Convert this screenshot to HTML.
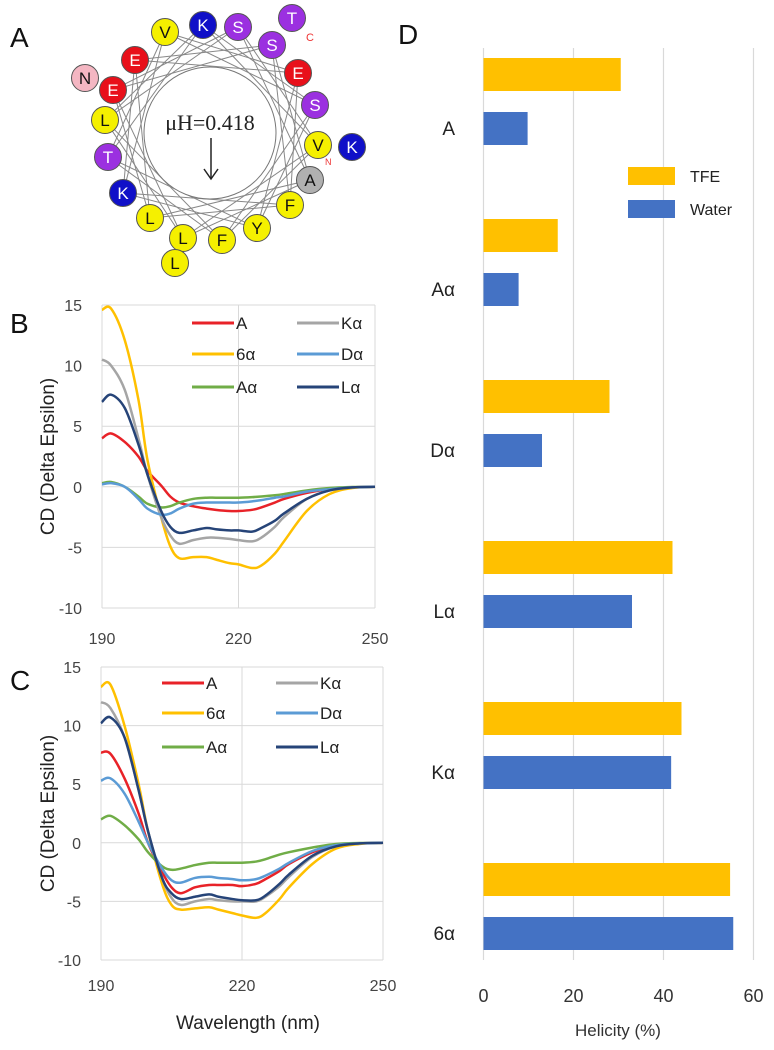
<!DOCTYPE html>
<html><head><meta charset="utf-8"><style>
html,body{margin:0;padding:0;background:#fff;width:774px;height:1050px;overflow:hidden}
svg{display:block;font-family:"Liberation Sans",sans-serif}
</style></head><body>
<svg id="fig" width="774" height="1050" viewBox="0 0 774 1050">
<text x="10" y="47" font-size="28" fill="#111">A</text>
<text x="10" y="333" font-size="28" fill="#111">B</text>
<text x="10" y="690" font-size="28" fill="#111">C</text>
<text x="398" y="44" font-size="28" fill="#111">D</text>
<g id="wheel"></g>
<g id="pb"></g>
<g id="pc"></g>
<g id="pd"></g>
</svg>
<script>
const NS="http://www.w3.org/2000/svg";
function mk(p,t,a,txt){const e=document.createElementNS(NS,t);for(const k in a)e.setAttribute(k,a[k]);if(txt!==undefined)e.textContent=txt;p.appendChild(e);return e;}

// ---- Helical wheel ----
const residues=["N","E","E","V","K","S","T","S","E","S","V","K","A","F","Y","F","L","L","L","K","T","L"];
const resColors=["#f4b6c2","#e8101a","#e8101a","#f5f000","#1010c8","#9b30e0","#9b30e0","#9b30e0","#e8101a","#9b30e0","#f5f000","#1010c8","#b0b0b0","#f5f000","#f5f000","#f5f000","#f5f000","#f5f000","#f5f000","#1010c8","#9b30e0","#f5f000"];
const resPos=[[85,78],[113,90],[135,60],[165,32],[203,25],[238,27],[292,18],[272,45],[298,73],[315,105],[318,145],[352,147],[310,180],[290,205],[257,228],[222,240],[183,238],[175,263],[150,218],[123,193],[108,157],[105,120]];
const W=document.getElementById('wheel');
const inner=[1,2,3,4,5,7,8,9,10,12,13,14,15,16,18,19,20,21];
for(let i=0;i<inner.length;i++){for(const st of [5,4]){const a=resPos[inner[i]],b=resPos[inner[(i+st)%inner.length]];
 const l=mk(W,'line',{x1:a[0],y1:a[1],x2:b[0],y2:b[1],stroke:'#888','stroke-width':1});
 
 }}
mk(W,'circle',{cx:210,cy:133,r:66,fill:'#fff',stroke:'#777','stroke-width':1});
residues.forEach((r,i)=>{const g=mk(W,'g',{});
 
 
 mk(g,'circle',{cx:resPos[i][0],cy:resPos[i][1],r:13.5,fill:resColors[i],stroke:'#555','stroke-width':1});
 const dark=["#f4b6c2","#f5f000","#b0b0b0"].includes(resColors[i]);
 mk(g,'text',{x:resPos[i][0],y:resPos[i][1]+6,'text-anchor':'middle','font-size':17,fill:dark?'#111':'#fff'},r);});
mk(W,'text',{x:306,y:41,'font-size':11,fill:'#e33'},'C');
mk(W,'text',{x:325,y:165,'font-size':9,fill:'#e33'},'N');
const mu=mk(W,'text',{x:210,y:130,'text-anchor':'middle','font-size':22,'font-family':'"Liberation Serif",serif',fill:'#222'},'μH=0.418');


mk(W,'line',{x1:211,y1:138,x2:211,y2:178,stroke:'#222','stroke-width':1.5});
mk(W,'path',{d:'M204,169 L211,179 L218,169',fill:'none',stroke:'#222','stroke-width':1.5});

// ---- CD data ----
const wavelengths=[190,192,195,198,200,203,205,207,210,213,215,218,220,223,225,228,230,235,240,245,250];
const seriesNames=["A","6α","Aα","Kα","Dα","Lα"];
const seriesColors=["#e82228","#ffc000","#70ad47","#a5a5a5","#5b9bd5","#264478"];
const bA=[4,4.4,3.7,2.5,1.3,0.1,-0.8,-1.3,-1.6,-1.8,-1.9,-2,-2,-1.9,-1.7,-1.3,-1.0,-0.5,-0.2,-0.05,0];
const b6a=[14.6,14.7,12.1,7.2,2.2,-2.5,-4.9,-5.9,-5.8,-5.8,-6.0,-6.3,-6.4,-6.7,-6.5,-5.5,-4.5,-2.0,-0.6,-0.1,0];
const bAa=[0.3,0.4,0,-0.8,-1.4,-1.7,-1.6,-1.3,-1.0,-0.9,-0.9,-0.9,-0.9,-0.85,-0.8,-0.7,-0.6,-0.3,-0.1,-0.02,0];
const bKa=[10.5,10,8,4,1,-2.5,-4,-4.7,-4.4,-4.2,-4.2,-4.3,-4.4,-4.5,-4.2,-3.3,-2.5,-1.0,-0.3,-0.05,0];
const bDa=[0.2,0.3,0,-1.0,-1.8,-2.3,-2.2,-1.8,-1.4,-1.3,-1.3,-1.3,-1.3,-1.2,-1.1,-0.9,-0.8,-0.4,-0.2,-0.05,0];
const bLa=[7,7.6,6.5,3.5,1,-2,-3.3,-3.8,-3.6,-3.4,-3.5,-3.6,-3.6,-3.7,-3.4,-2.8,-2.2,-1.0,-0.3,-0.05,0];
const cA=[7.7,7.6,5.5,2.5,0,-2.5,-3.8,-4.3,-3.8,-3.6,-3.6,-3.6,-3.7,-3.5,-3.1,-2.4,-1.8,-0.8,-0.2,-0.05,0];
const c6a=[13.3,13.5,10,5,1,-3.5,-5.3,-5.7,-5.6,-5.5,-5.7,-6.0,-6.2,-6.4,-6.0,-4.8,-3.8,-1.8,-0.5,-0.1,0];
const cAa=[2,2.3,1.5,0.3,-0.8,-2,-2.3,-2.2,-1.9,-1.7,-1.7,-1.7,-1.7,-1.6,-1.4,-1.0,-0.8,-0.4,-0.1,-0.02,0];
const cKa=[12,11.5,9,4.5,1,-3,-4.7,-5.3,-5,-4.8,-4.9,-5.0,-5.0,-5.0,-4.6,-3.7,-2.9,-1.2,-0.3,-0.05,0];
const cDa=[5.3,5.5,4.2,1.8,0,-2.2,-3.2,-3.4,-3.0,-2.9,-3.0,-3.1,-3.2,-3.1,-2.8,-2.2,-1.7,-0.7,-0.2,-0.05,0];
const cLa=[10.2,10.7,9,4.5,1,-3,-4.3,-4.8,-4.6,-4.4,-4.6,-4.8,-4.9,-4.9,-4.5,-3.5,-2.7,-1.1,-0.3,-0.05,0];
const yTicks=[15,10,5,0,-5,-10];
const xTicks=[190,220,250];

function smooth(pts){let d='M'+pts[0][0]+','+pts[0][1];
 for(let i=0;i<pts.length-1;i++){const p0=pts[Math.max(0,i-1)],p1=pts[i],p2=pts[i+1],p3=pts[Math.min(pts.length-1,i+2)];
  d+=' C'+(p1[0]+(p2[0]-p0[0])/6)+','+(p1[1]+(p2[1]-p0[1])/6)+' '+(p2[0]-(p3[0]-p1[0])/6)+','+(p2[1]-(p3[1]-p1[1])/6)+' '+p2[0]+','+p2[1];}
 return d;}

function cdChart(G,L,R,T,B,data,xLabY,legY,legX,showXTitle,key){
 const x=v=>L+(v-190)/(250-190)*(R-L), y=v=>T+(15-v)/(25)*(B-T);
 yTicks.forEach(t=>{const l=mk(G,'line',{x1:L,x2:R,y1:y(t),y2:y(t),stroke:'#d9d9d9','stroke-width':1});
  
  
  const tx=mk(G,'text',{x:L-20,y:y(t)+6,'text-anchor':'end','font-size':16,fill:'#444'},t);
  
  });
 xTicks.forEach(t=>{const l=mk(G,'line',{x1:x(t),x2:x(t),y1:T,y2:B,stroke:'#d9d9d9','stroke-width':1});
  
  
  const tx=mk(G,'text',{x:x(t),y:xLabY,'text-anchor':'middle','font-size':16,fill:'#444'},t);
  
  });
 const yt=mk(G,'text',{transform:'translate(54,'+((T+B)/2)+') rotate(-90)','text-anchor':'middle','font-size':19,fill:'#222'},'CD (Delta Epsilon)');
 
 
 if(showXTitle){const xt=mk(G,'text',{x:248,y:1029,'text-anchor':'middle','font-size':19,fill:'#222'},'Wavelength (nm)');
  
  }
 data.forEach((s,i)=>{const p=mk(G,'path',{d:smooth(wavelengths.map((w,j)=>[x(w),y(s[j])])),fill:'none',stroke:seriesColors[i],'stroke-width':2.5});
  
  });
 seriesNames.forEach((n,i)=>{const col=i%2, row=Math.floor(i/2);
  const g=mk(G,'g',{});
  
  
  const idx=[0,3,1,4,2,5][row*2+col];
  const lx=legX[col], ly=legY[row];
  mk(g,'line',{x1:lx,x2:lx+42,y1:ly,y2:ly,stroke:seriesColors[idx],'stroke-width':3});
  mk(g,'text',{x:lx+44,y:ly+6,'font-size':17,fill:'#222'},seriesNames[idx]);});
}
cdChart(document.getElementById('pb'),102,375,305,608,[bA,b6a,bAa,bKa,bDa,bLa],644,[323,354,387],[192,297],false,'b');
cdChart(document.getElementById('pc'),101,383,667,960,[cA,c6a,cAa,cKa,cDa,cLa],991,[683,713,747],[162,276],true,'c');

// ---- Helicity bars ----
const categories=["A","Aα","Dα","Lα","Kα","6α"];
const tfeValues=[30.5,16.5,28,42,44,54.8];
const waterValues=[9.8,7.8,13,33,41.7,55.5];
const helTicks=[0,20,40,60];
const D=document.getElementById('pd');
const hx=v=>483.5+v*4.5;
helTicks.forEach(t=>{const l=mk(D,'line',{x1:hx(t),x2:hx(t),y1:48,y2:960,stroke:'#d9d9d9','stroke-width':1.2});
 
 
 const tx=mk(D,'text',{x:hx(t),y:1002,'text-anchor':'middle','font-size':18,fill:'#333'},t);
 
 });
categories.forEach((c,i)=>{const top=58+i*161;
 const b1=mk(D,'rect',{x:hx(0),y:top,width:hx(tfeValues[i])-hx(0),height:33,fill:'#ffc000'});
 
 
 const b2=mk(D,'rect',{x:hx(0),y:top+54,width:hx(waterValues[i])-hx(0),height:33,fill:'#4472c4'});
 
 
 const t=mk(D,'text',{x:455,y:top+77,'text-anchor':'end','font-size':19,fill:'#222'},c);
 
 });
const xt=mk(D,'text',{x:618,y:1036,'text-anchor':'middle','font-size':17,fill:'#333'},'Helicity (%)');


[["TFE","#ffc000",167],["Water","#4472c4",200]].forEach(l=>{const g=mk(D,'g',{});
 
 
 mk(g,'rect',{x:628,y:l[2],width:47,height:18,fill:l[1]});
 mk(g,'text',{x:690,y:l[2]+15,'font-size':16,fill:'#222'},l[0]);});
</script>
</body></html>
